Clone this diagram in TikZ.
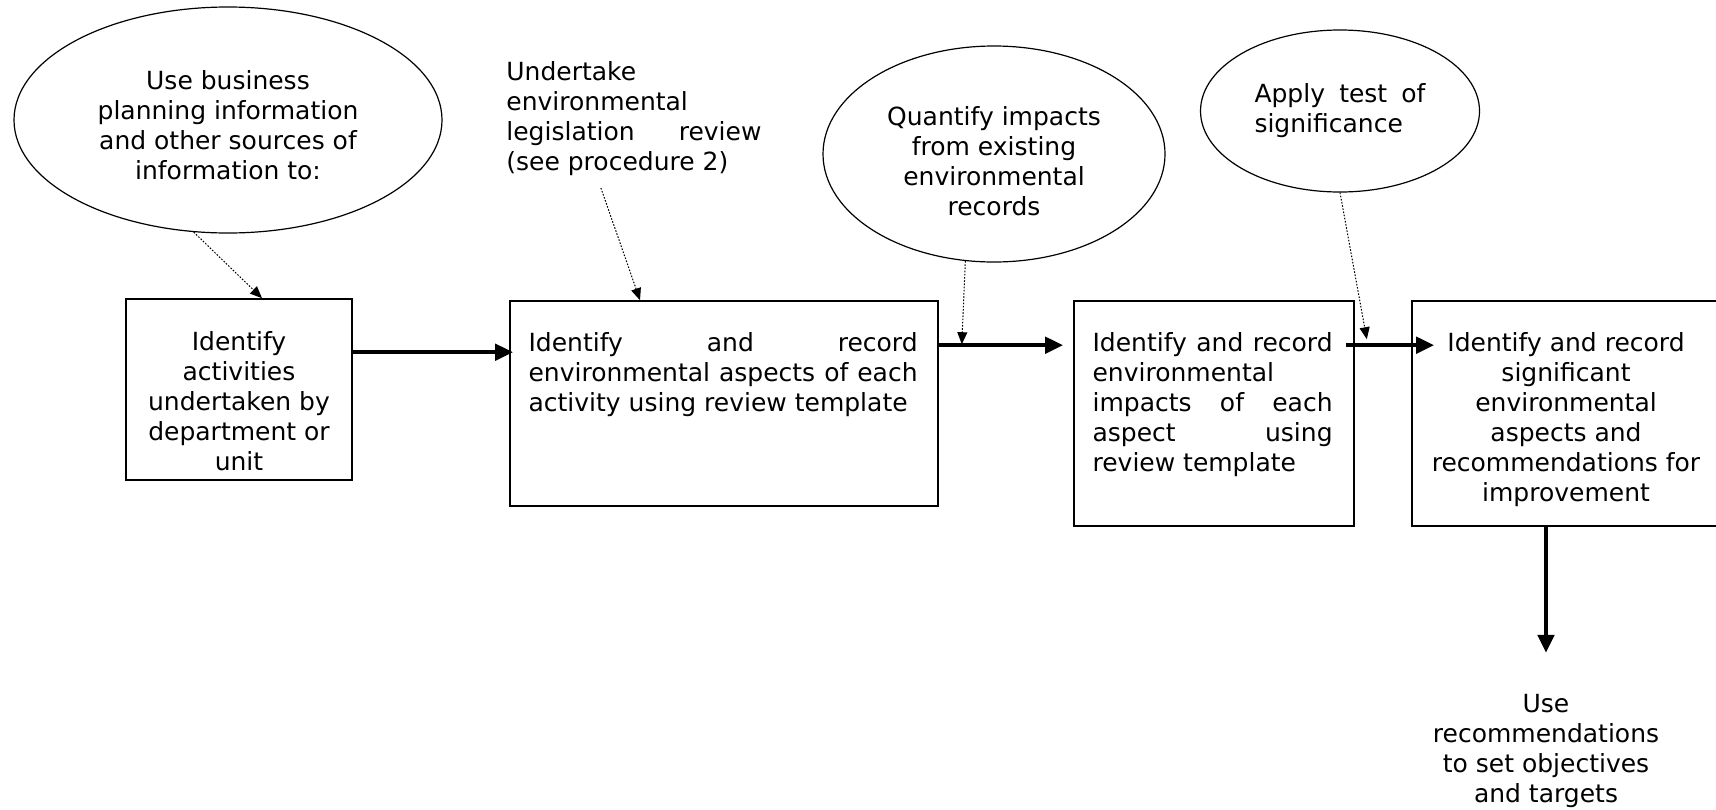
\documentclass[tikz,border=0pt]{standalone}
\usepackage{fontspec}
\setmainfont{DejaVu Sans}
\usepackage{tikz}
\usetikzlibrary{shapes.geometric,positioning,calc,arrows.meta}

\newcommand{\spreadline}[2]{\makebox[#1][s]{#2}}

\begin{document}
\begin{tikzpicture}[x=0.5pt, y=0.5pt, font=\fontsize{12.5}{15}\selectfont]
	\tikzstyle{stepbox}=[draw, rectangle, line width=0.8pt, inner sep=0pt];
	\tikzstyle{source}=[draw, ellipse, line width=0.6pt, inner sep=0pt, align=center];
	\tikzstyle{boxtext}=[inner sep=0pt, anchor=north];
	\tikzstyle{flow}=[line width=2.2pt, -{Triangle[length=9pt, width=8pt]}];
	\tikzstyle{feed}=[line width=0.5pt, dash pattern=on 0.8pt off 0.8pt, -{Triangle[length=6pt, width=5pt]}];

	\useasboundingbox (0,0) rectangle (1716,-809);

	% process boxes
	\node[stepbox, minimum width=113pt, minimum height=90.5pt] (activities) at (239,-389.5) {};
	\node[stepbox, minimum width=214pt, minimum height=102.5pt] (aspects) at (724,-403.5) {};
	\node[stepbox, minimum width=140pt, minimum height=112.5pt] (impacts) at (1214,-413.5) {};
	\node[stepbox, minimum width=155pt, minimum height=112.5pt] (significant) at (1567,-413.5) {};

	\node[boxtext, align=center] (activities_txt) at ($(activities.north)+(0,-33)$) {Identify\\ activities\\ undertaken by\\ department or\\ unit};
	\node[boxtext, anchor=north west, align=left] (aspects_txt) at ($(aspects.north west)+(19,-32)$) {\spreadline{194.5pt}{Identify and record}\\ \spreadline{194.5pt}{environmental aspects of each}\\ activity using review template};
	\node[boxtext, anchor=north west, align=left] (impacts_txt) at ($(impacts.north west)+(19,-32)$) {\spreadline{120pt}{Identify and record}\\ environmental\\ \spreadline{120pt}{impacts of each}\\ \spreadline{120pt}{aspect using}\\ review template};
	\node[boxtext, align=center] (significant_txt) at ($(significant.north)+(-1,-32)$) {Identify and record\\ significant\\ environmental\\ aspects and\\ recommendations for\\ improvement};

	% inputs
	\node[source, minimum width=214pt, minimum height=113pt] (planning) at (228,-120) {};
	\node[align=center, inner sep=0pt] (planning_txt) at ($(planning.center)+(0,-5)$) {Use business\\ planning information\\ and other sources of\\ information to:};
	\node[boxtext, anchor=north west, align=left] (legis) at (506,-61) {Undertake\\ environmental\\ \spreadline{127.5pt}{legislation review}\\ (see procedure 2)};
	\node[source, minimum width=171pt, minimum height=108pt] (quantify) at (994,-154) {};
	\node[align=center, inner sep=0pt] (quantify_txt) at ($(quantify.center)+(0,-7)$) {Quantify impacts\\ from existing\\ environmental\\ records};
	\node[source, minimum width=139.5pt, minimum height=81pt, align=left] (test) at (1340,-111) {\spreadline{85.5pt}{Apply test of}\\ significance};

	\node[boxtext, anchor=center, align=center] (goal) at (1546,-751) {Use\\ recommendations\\ to set objectives\\ and targets};

	% main flow
	\draw[flow] ($(activities.north east)+(0,-54)$) -- ($(aspects.north west)+(4,-52)$);
	\draw[flow] ($(aspects.north east)+(0,-45)$) -- ($(impacts.north west)+(-10,-45)$);
	\draw[flow] ($(impacts.north east)+(-9,-45)$) -- ($(significant.north west)+(23,-45)$);
	\draw[flow] (goal.north |- significant.south) -- ($(goal.north)+(0,41)$);

	% dotted feeds
	\draw[feed] (planning.253) -- ($(activities.north)+(23,0)$);
	\draw[feed] ($(legis.south)+(-33,-12)$) -- ($(aspects.north)+(-84,0)$);
	\draw[feed] (quantify.255) -- ($(aspects.north east)+(23,-44)$);
	\draw[feed] (test.south) -- ($(impacts.north east)+(12,-39)$);
\end{tikzpicture}
\end{document}
